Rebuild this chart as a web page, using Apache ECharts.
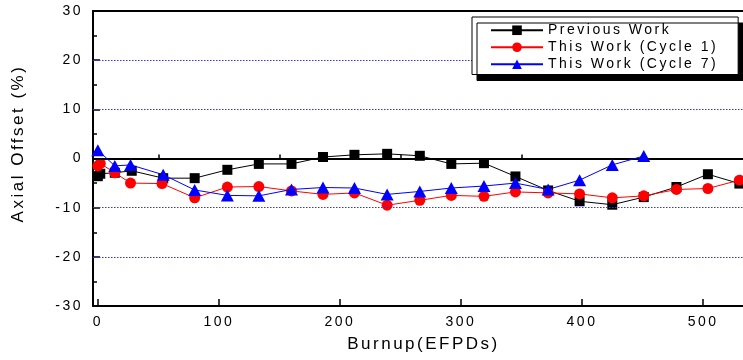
<!DOCTYPE html>
<html>
<head>
<meta charset="utf-8">
<script src="https://cdn.jsdelivr.net/npm/echarts@6/dist/echarts.min.js"></script>
<style>
  html, body { margin: 0; padding: 0; background: #fff; }
  #main { width: 743px; height: 360px; }
</style>
</head>
<body>
<div id="main"></div>
<script>
// ---- data ----
const seriesNames = ['Previous Work', 'This Work (Cycle 1)', 'This Work (Cycle 7)'];

const prevX = [0, 2, 14, 28, 54, 80, 107, 133, 160, 186, 212, 239, 266, 292, 319, 345, 372, 398, 425, 451, 478, 504, 530];
const prevY = [-3.6, -3.1, -2.9, -2.5, -4.0, -4.0, -2.3, -1.1, -1.1, 0.3, 0.75, 0.95, 0.55, -1.1, -0.95, -3.65, -6.5, -8.7, -9.4, -7.85, -5.8, -3.2, -5.1];

const cyc1X = [0, 2, 14, 27, 53, 80, 107, 133, 160, 186, 212, 239, 266, 292, 319, 345, 372, 398, 425, 451, 478, 504, 530];
const cyc1Y = [-1.5, -1.0, -2.9, -5.0, -5.1, -8.0, -5.8, -5.7, -6.6, -7.3, -7.0, -9.5, -8.5, -7.5, -7.7, -6.8, -7.0, -7.2, -8.0, -7.6, -6.3, -6.1, -4.4];

const cyc7X = [0, 14, 27, 54, 80, 107, 133, 160, 186, 212, 239, 266, 292, 319, 345, 372, 398, 425, 451];
const cyc7Y = [1.7, -1.5, -1.3, -3.3, -6.4, -7.5, -7.6, -6.3, -5.9, -6.0, -7.3, -6.7, -6.0, -5.6, -5.0, -6.3, -4.4, -1.3, 0.5];

const xMajorTicks = [0, 100, 200, 300, 400, 500];
const xMinorTicks = [50, 150, 250, 350, 450];
const gridLinesY = [20, 10, -10, -20];

// wide letter spacing of the original's text (canvas letterSpacing)
(function () {
  const P = CanvasRenderingContext2D.prototype;
  if (!('letterSpacing' in P)) return;
  const SP = '2.5px';
  const origFill = P.fillText, origMeasure = P.measureText;
  P.fillText = function () { this.letterSpacing = SP; return origFill.apply(this, arguments); };
  P.measureText = function () { this.letterSpacing = SP; return origMeasure.apply(this, arguments); };
})();

// ---- chart ----
const FONT = "'Liberation Sans', Arial, sans-serif";
const pair = (xs, ys) => xs.map((x, i) => [x, ys[i]]);

const chart = echarts.init(document.getElementById('main'), null, { renderer: 'canvas' });

const xCommon = { type: 'value', min: -4, max: 533, splitLine: { show: false } };

// legend box geometry (screen pixels)
const LEG = { left: 472, top: 17, pad: [5, 20, 2, 18], itemWidth: 52, textWidth: 165, rowH: 16, gap: 0.5 };

chart.setOption({
  animation: false,
  backgroundColor: '#fff',
  grid: { left: 93, right: 0, top: 11, bottom: 54, outerBoundsMode: 'none', containLabel: false },
  legend: {
    orient: 'vertical', selectedMode: false, z: 20,
    left: LEG.left, top: LEG.top,
    padding: LEG.pad,
    itemWidth: LEG.itemWidth, itemHeight: 12, itemGap: LEG.gap,
    backgroundColor: '#fff', borderColor: '#000', borderWidth: 1,
    shadowColor: '#000', shadowBlur: 0, shadowOffsetX: 5, shadowOffsetY: 6,
    textStyle: { fontFamily: FONT, fontSize: 14, color: '#000', lineHeight: LEG.rowH, width: LEG.textWidth },
    data: seriesNames
  },
  xAxis: [
    Object.assign({}, xCommon, {
      position: 'bottom',
      name: 'Burnup(EFPDs)', nameLocation: 'middle', nameGap: 29, nameMoveOverlap: false,
      nameTextStyle: { fontFamily: FONT, fontSize: 17, color: '#000', padding: [0, 0, 0, 11] },
      axisLine: { show: true, onZero: false, lineStyle: { color: '#000', width: 2 } },
      axisTick: { show: true, inside: true, length: 7, customValues: xMajorTicks, lineStyle: { color: '#000', width: 1.5 } },
      axisLabel: { show: true, customValues: xMajorTicks, margin: 8, fontFamily: FONT, fontSize: 14, color: '#000' }
    }),
    Object.assign({}, xCommon, {
      position: 'bottom',
      axisLine: { show: false },
      axisTick: { show: true, inside: true, length: 4, customValues: xMinorTicks, lineStyle: { color: '#000', width: 1.5 } },
      axisLabel: { show: false }
    }),
    Object.assign({}, xCommon, {
      position: 'top',
      axisLine: { show: true, onZero: false, lineStyle: { color: '#000', width: 2 } },
      axisTick: { show: false },
      axisLabel: { show: false }
    })
  ],
  yAxis: {
    type: 'value', min: -30, max: 30, interval: 10,
    name: 'Axial Offset (%)', nameLocation: 'middle', nameGap: 65, nameMoveOverlap: false,
    nameTextStyle: { fontFamily: FONT, fontSize: 17, color: '#000', padding: [0, 0, 0, 30] },
    axisLine: { show: true, onZero: false, lineStyle: { color: '#000', width: 2 } },
    axisTick: { show: true, inside: true, length: 7, lineStyle: { color: '#000', width: 1.5 } },
    minorTick: { show: true, splitNumber: 2, length: 4, lineStyle: { color: '#000', width: 1.5 } },
    axisLabel: { margin: 10, fontFamily: FONT, fontSize: 14, color: '#000' },
    splitLine: { show: false }
  },
  series: [
    {
      name: 'refLines', type: 'line', data: [], z: 1, silent: true,
      markLine: {
        silent: true, symbol: 'none', label: { show: false }, animation: false,
        data: gridLinesY.map(v => ({ yAxis: v, lineStyle: { color: '#3030ff', width: 1, type: [1.5, 1.5] } }))
          .concat([{ yAxis: 0, lineStyle: { color: '#000', width: 2, type: 'solid' } }])
      }
    },
    {
      name: seriesNames[0], type: 'line', z: 3,
      data: pair(prevX, prevY),
      symbol: 'rect', symbolSize: 10,
      itemStyle: { color: '#000' },
      lineStyle: { color: '#000', width: 1 }
    },
    {
      name: seriesNames[1], type: 'line', z: 4,
      data: pair(cyc1X, cyc1Y),
      symbol: 'circle', symbolSize: 11,
      itemStyle: { color: '#ff0000' },
      lineStyle: { color: '#ff0000', width: 1 }
    },
    {
      name: seriesNames[2], type: 'line', z: 5,
      data: pair(cyc7X, cyc7Y),
      symbol: 'triangle', symbolSize: [13, 12],
      itemStyle: { color: '#0000ff' },
      lineStyle: { color: '#0000ff', width: 1 }
    }
  ]
});
</script>
</body>
</html>
